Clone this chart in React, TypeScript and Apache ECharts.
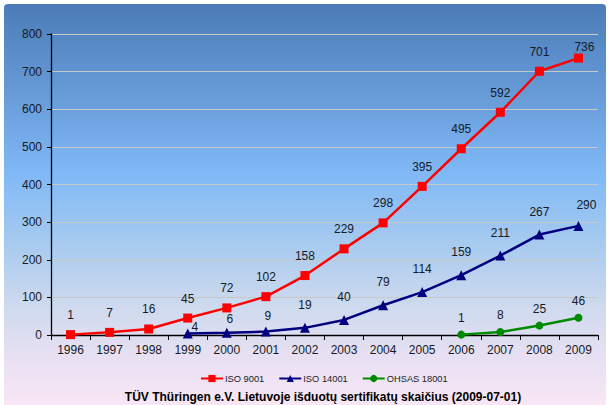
import React, { useEffect, useRef } from "react";
import * as echarts from "echarts";

const years = ["1996", "1997", "1998", "1999", "2000", "2001", "2002", "2003", "2004", "2005", "2006", "2007", "2008", "2009"];
const iso9001 = [1, 7, 16, 45, 72, 102, 158, 229, 298, 395, 495, 592, 701, 736];
const iso14001 = [null, null, null, 4, 6, 9, 19, 40, 79, 114, 159, 211, 267, 290];
const ohsas18001 = [null, null, null, null, null, null, null, null, null, null, 1, 8, 25, 46];
const seriesNames = ["ISO 9001", "ISO 14001", "OHSAS 18001"];
const titleText = "TÜV Thüringen e.V. Lietuvoje išduotų sertifikatų skaičius (2009-07-01)";

const FONT = "Arial, 'Liberation Sans', sans-serif";
const TXT = "#151a26";

// label nudges (pixels) keyed by data index
const nudge9001: Record<number, [number, number]> = { 13: [6, 8] };
const nudge14001: Record<number, [number, number]> = { 3: [7, 17], 4: [3, 9], 5: [2, 7], 13: [8, 2] };

export default function App() {
  const ref = useRef<HTMLDivElement>(null);
  useEffect(() => {
    if (!ref.current) return;
    const chart = echarts.init(ref.current, undefined, { renderer: "svg" });
    const lbl = (distance: number) => ({
      show: true,
      position: "top",
      distance,
      fontSize: 12,
      fontFamily: FONT,
      color: TXT,
    });
    const layoutFor = (nudges: Record<number, [number, number]>) => (p: any) => {
      const n = nudges[p.dataIndex];
      return n ? { dx: n[0], dy: n[1], hideOverlap: false } : { hideOverlap: false };
    };
    chart.setOption({
      animation: false,
      backgroundColor: "transparent",
      textStyle: { fontFamily: FONT },
      grid: { left: 51, right: 10, top: 34, bottom: 70, containLabel: false },
      legend: {
        left: 195,
        top: 369,
        itemWidth: 22,
        itemHeight: 9,
        itemGap: 14,
        textStyle: { fontSize: 9.3, fontFamily: FONT, color: TXT, padding: [0, 0, 0, -3] },
        data: seriesNames,
      },
      xAxis: {
        type: "category",
        data: years,
        boundaryGap: true,
        axisLine: { lineStyle: { color: "#000", width: 1.3 } },
        axisTick: { show: true, length: 5, lineStyle: { color: "#000" } },
        axisLabel: { fontSize: 12, fontFamily: FONT, color: TXT, margin: 9 },
      },
      yAxis: {
        type: "value",
        min: 0,
        max: 800,
        interval: 100,
        axisLine: { show: true, lineStyle: { color: "#000", width: 1.3 } },
        axisTick: { show: true, length: 4, lineStyle: { color: "#000" } },
        axisLabel: { fontSize: 12, fontFamily: FONT, color: TXT, margin: 9 },
        splitLine: { show: true, lineStyle: { color: "#c8c8c8", width: 1 } },
      },
      series: [
        {
          name: seriesNames[0],
          type: "line",
          data: iso9001,
          symbol: "rect",
          symbolSize: 9,
          itemStyle: { color: "#ff0000" },
          lineStyle: { color: "#ff0000", width: 2.5 },
          label: lbl(9),
          labelLayout: layoutFor(nudge9001),
          z: 3,
        },
        {
          name: seriesNames[1],
          type: "line",
          data: iso14001,
          symbol: "triangle",
          symbolSize: 10,
          itemStyle: { color: "#000080" },
          lineStyle: { color: "#000080", width: 2.5 },
          label: lbl(12),
          labelLayout: layoutFor(nudge14001),
          z: 4,
        },
        {
          name: seriesNames[2],
          type: "line",
          data: ohsas18001,
          symbol: "circle",
          symbolSize: 8,
          showAllSymbol: true,
          itemStyle: { color: "#008a00" },
          lineStyle: { color: "#008a00", width: 2.5 },
          label: lbl(7),
          labelLayout: layoutFor({}),
          z: 2,
        },
      ],
      graphic: [
        {
          type: "text",
          x: 323,
          y: 397,
          style: {
            text: titleText,
            fontSize: 12,
            fontWeight: "bold",
            fontFamily: FONT,
            fill: "#000",
            align: "center",
            verticalAlign: "middle",
          },
        },
      ],
    });
    return () => chart.dispose();
  }, []);

  return (
    <div style={{ position: "fixed", left: 0, top: 0, width: 608, height: 405, background: "#fff", overflow: "hidden" }}>
      <div
        style={{
          position: "absolute",
          left: 4,
          top: 4,
          width: 602,
          height: 405,
          borderRadius: 4,
          background:
            "linear-gradient(to bottom, #4b7cb7 0%, #6a9fdc 25%, #80b9f6 42%, #a9cbef 60%, #cfdaee 75%, #e7e0f2 87%, #fae7f5 100%)",
        }}
      />
      <div ref={ref} style={{ position: "absolute", left: 0, top: 0, width: 608, height: 405 }} />
    </div>
  );
}
